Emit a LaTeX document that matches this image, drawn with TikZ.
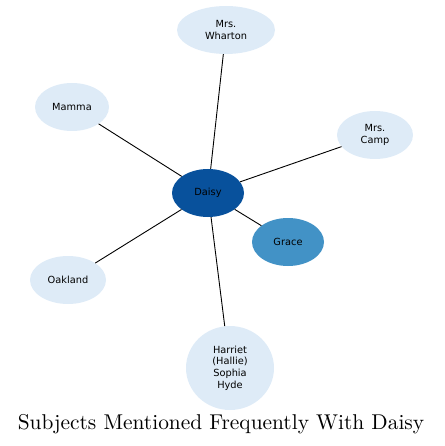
\documentclass[tikz,border=0pt]{standalone}
\usepackage{fontspec}
\newfontfamily\nodefont{DejaVu Sans}
\newfontfamily\titlefont{lmroman10-regular.otf}
\usetikzlibrary{
  positioning,
  shapes.geometric
}
\definecolor{hub}{HTML}{08519C}
\definecolor{mid}{HTML}{4292C6}
\definecolor{pale}{HTML}{DEEBF7}

\begin{document}
\begin{tikzpicture}[x=1pt, y=-1pt,
  subj/.style={ellipse, draw=none, fill=pale, inner sep=0pt, align=center,
    font=\nodefont\fontsize{9.8}{11.7}\selectfont, text=black},
  link/.style={draw=black, line width=0.9pt}
]
  \useasboundingbox (0,0) rectangle (444,446);

  \node[subj, fill=hub, minimum width=72pt, minimum height=48pt] (daisy) at (208,193) {Daisy};
  \node[subj, fill=mid, minimum width=72pt, minimum height=48pt] (grace) at (288,242) {Grace};
  \node[subj, minimum width=98pt, minimum height=48pt] (wharton) at (226,30) {Mrs.\\Wharton};
  \node[subj, minimum width=74pt, minimum height=48pt] (mamma) at (72,107) {Mamma};
  \node[subj, minimum width=76pt, minimum height=48pt] (camp) at (375,135) {Mrs.\\Camp};
  \node[subj, minimum width=76pt, minimum height=48pt] (oakland) at (68,280) {Oakland};
  \node[subj, minimum width=88pt, minimum height=84pt] (hyde) at (230,368) {Harriet\\(Hallie)\\Sophia\\Hyde};

  \draw[link] (daisy) -- (wharton);
  \draw[link] (daisy) -- (mamma);
  \draw[link] (daisy) -- (camp);
  \draw[link] (daisy) -- (oakland);
  \draw[link] (daisy) -- (grace);
  \draw[link] (daisy) -- (hyde);

  \node[font=\titlefont\fontsize{21.4}{25}\selectfont] (title) at (221,424) {Subjects Mentioned Frequently With Daisy};
\end{tikzpicture}
\end{document}
